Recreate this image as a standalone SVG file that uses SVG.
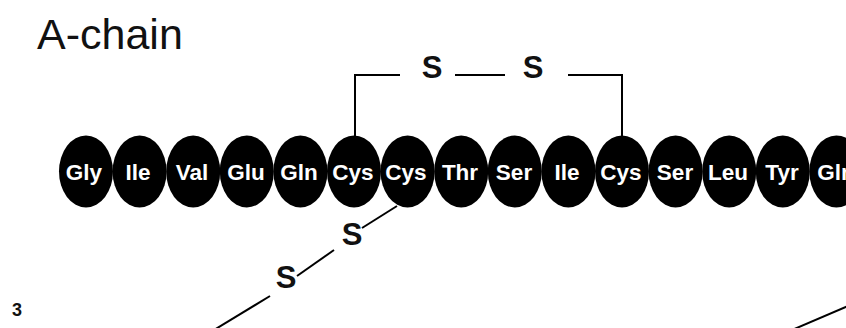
<svg xmlns="http://www.w3.org/2000/svg" width="846" height="328" viewBox="0 0 846 328">
<style>
.res ellipse{fill:#000}
.res text{fill:#fff;font-family:"Liberation Sans",Arial,sans-serif;font-weight:bold;font-size:22.5px;text-anchor:middle}
.bond{stroke:#000;stroke-width:2;fill:none}
.s{font-family:"Liberation Sans",Arial,sans-serif;font-size:31px;font-weight:bold;fill:#111;text-anchor:middle}
</style>
<rect width="846" height="328" fill="#fff"/>
<text x="37" y="49" font-family="Liberation Sans, Arial, sans-serif" font-size="43" fill="#111">A-chain</text>
<text x="17" y="316" font-family="Liberation Sans, Arial, sans-serif" font-size="18" font-weight="bold" fill="#111" text-anchor="middle">3</text>
<g id="connectors">
<polyline class="bond" points="355,137 355,75 400,75"/>
<line class="bond" x1="455" y1="75" x2="505" y2="75"/>
<polyline class="bond" points="568,75 622,75 622,137"/>
<line class="bond" x1="397" y1="206" x2="362" y2="228" stroke-width="1.5"/>
<line class="bond" x1="334" y1="250" x2="297" y2="276" stroke-width="1.5"/>
<line class="bond" x1="270" y1="296" x2="214" y2="330" stroke-width="1.5"/>
<line class="bond" x1="792" y1="330" x2="848" y2="306" stroke-width="1.5"/>
<text class="s" x="432" y="78">S</text>
<text class="s" x="533" y="78">S</text>
<text class="s" x="352" y="245">S</text>
<text class="s" x="286" y="288">S</text>
</g>
<g class="res">
<g id="r1"><ellipse cx="86" cy="171.5" rx="27" ry="36"/><text x="84" y="180">Gly</text></g>
<g id="r2"><ellipse cx="139.6" cy="171.5" rx="27" ry="36"/><text x="138" y="180">Ile</text></g>
<g id="r3"><ellipse cx="193.2" cy="171.5" rx="27" ry="36"/><text x="192" y="180">Val</text></g>
<g id="r4"><ellipse cx="246.8" cy="171.5" rx="27" ry="36"/><text x="246" y="180">Glu</text></g>
<g id="r5"><ellipse cx="300.4" cy="171.5" rx="27" ry="36"/><text x="299" y="180">Gln</text></g>
<g id="r6"><ellipse cx="354" cy="171.5" rx="27" ry="36"/><text x="353" y="180">Cys</text></g>
<g id="r7"><ellipse cx="407.6" cy="171.5" rx="27" ry="36"/><text x="406" y="180">Cys</text></g>
<g id="r8"><ellipse cx="461.2" cy="171.5" rx="27" ry="36"/><text x="460" y="180">Thr</text></g>
<g id="r9"><ellipse cx="514.8" cy="171.5" rx="27" ry="36"/><text x="514" y="180">Ser</text></g>
<g id="r10"><ellipse cx="568.4" cy="171.5" rx="27" ry="36"/><text x="567" y="180">Ile</text></g>
<g id="r11"><ellipse cx="622" cy="171.5" rx="27" ry="36"/><text x="621" y="180">Cys</text></g>
<g id="r12"><ellipse cx="675.6" cy="171.5" rx="27" ry="36"/><text x="675" y="180">Ser</text></g>
<g id="r13"><ellipse cx="729.2" cy="171.5" rx="27" ry="36"/><text x="728" y="180">Leu</text></g>
<g id="r14"><ellipse cx="782.8" cy="171.5" rx="27" ry="36"/><text x="782" y="180">Tyr</text></g>
<g id="r15"><ellipse cx="836.4" cy="171.5" rx="27" ry="36"/><text x="836" y="180">Gln</text></g>
</g>
</svg>
